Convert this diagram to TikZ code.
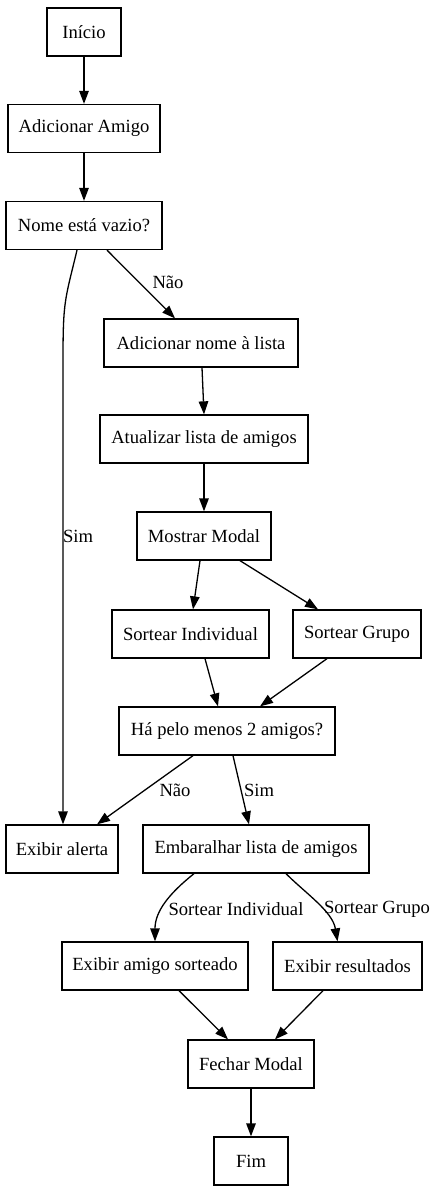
\documentclass[tikz,border=0pt]{standalone}
\usepackage{fontspec}
\setmainfont{Liberation Serif}
\usetikzlibrary{arrows.meta}
\tikzset{
  box/.style={draw, line width=1.3pt, minimum height=48pt, inner sep=0pt, font=\fontsize{18.6}{22}\selectfont},
  arr/.style={draw, line width=1.3pt, -{Triangle[length=13pt,width=9.5pt]}},
  lbl/.style={font=\fontsize{18.6}{22}\selectfont, inner sep=0pt}
}
\begin{document}
\begin{tikzpicture}[x=1pt,y=-1pt]
\useasboundingbox (0,0) rectangle (436,1192);
\node[box, minimum width=74pt] (inicio) at (84,32) {Início};
\node[box, minimum width=152pt] (add) at (84,128.5) {Adicionar Amigo};
\node[box, minimum width=156pt] (vazio) at (84,225.5) {Nome está vazio?};
\node[box, minimum width=194pt] (addnome) at (201,343) {Adicionar nome à lista};
\node[box, minimum width=208pt] (atual) at (204,439) {Atualizar lista de amigos};
\node[box, minimum width=134pt] (modal) at (204,536) {Mostrar Modal};
\node[box, minimum width=157pt] (sind) at (190.5,634) {Sortear Individual};
\node[box, minimum width=128pt] (sgrp) at (357,634) {Sortear Grupo};
\node[box, minimum width=216pt] (ha) at (227,731) {Há pelo menos 2 amigos?};
\node[box, minimum width=112pt] (alerta) at (62,849) {Exibir alerta};
\node[box, minimum width=226pt] (emb) at (256,849) {Embaralhar lista de amigos};
\node[box, minimum width=186pt] (exsort) at (155,966) {Exibir amigo sorteado};
\node[box, minimum width=149pt] (exres) at (347.5,966) {Exibir resultados};
\node[box, minimum width=126pt] (fechar) at (251,1064) {Fechar Modal};
\node[box, minimum width=74pt] (fim) at (251,1161) {Fim};

\coordinate (simbend) at (63,360);

\draw[arr] (inicio) -- (add);
\draw[arr] (add) -- (vazio);
\draw[arr] ([xshift=-7pt]vazio.south) .. controls +(-12,50) and +(0,-60) .. (simbend) -- ([xshift=1pt]alerta.north)
  node[lbl] at (78,536) {Sim};
\draw[arr] ([xshift=23pt]vazio.south) -- ([xshift=-26pt]addnome.north)
  node[lbl] at (168,282) {Não};
\draw[arr] ([xshift=1pt]addnome.south) -- (atual.north);
\draw[arr] (atual) -- (modal);
\draw[arr] ([xshift=-4pt]modal.south) -- ([xshift=2.5pt]sind.north);
\draw[arr] ([xshift=36pt]modal.south) -- ([xshift=-39pt]sgrp.north);
\draw[arr] ([xshift=14.5pt]sind.south) -- ([xshift=-9pt]ha.north);
\draw[arr] ([xshift=-30pt]sgrp.south) -- ([xshift=33pt]ha.north);
\draw[arr] ([xshift=-34pt]ha.south) -- ([xshift=35pt]alerta.north)
  node[lbl] at (175,790) {Não};
\draw[arr] ([xshift=6pt]ha.south) -- ([xshift=-7pt]emb.north)
  node[lbl] at (259,790) {Sim};
\draw[arr] ([xshift=-62pt]emb.south) .. controls +(-25,20) and +(0,-30) .. (exsort.north)
  node[lbl] at (236,909) {Sortear Individual};
\draw[arr] ([xshift=30pt]emb.south) .. controls +(20,20) and +(-5,-30) .. ([xshift=-10pt]exres.north)
  node[lbl] at (377,909) {Sortear Grupo};
\draw[arr] ([xshift=24pt]exsort.south) -- ([xshift=-23pt]fechar.north);
\draw[arr] ([xshift=-24.5pt]exres.south) -- ([xshift=24pt]fechar.north);
\draw[arr] (fechar) -- (fim);
\end{tikzpicture}
\end{document}
